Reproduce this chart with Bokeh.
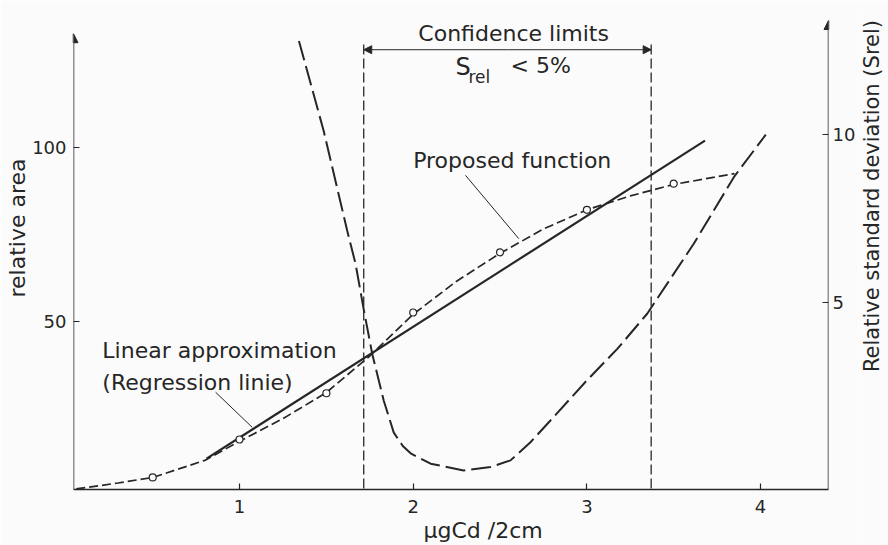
import math
from bokeh.plotting import figure
from bokeh.layouts import row
from bokeh.models import (Range1d, LinearAxis, FixedTicker, Label, Arrow,
                          NormalHead, Title)
from bokeh.embed import file_html
from bokeh.resources import INLINE

# ---------------- data ----------------
# measured points (relative area vs. µg Cd / 2 cm)
pts_x = [0.5, 1.0, 1.5, 2.0, 2.5, 3.0, 3.5]
pts_y = [5.1, 16.0, 29.3, 52.5, 69.8, 82.0, 89.5]

# proposed function (dashed curve)
prop_x = [0.06, 0.3, 0.5, 0.8, 1.0, 1.25, 1.5, 1.75, 2.0, 2.25, 2.5, 2.75, 3.0, 3.25, 3.5, 3.85]
prop_y = [1.8, 3.5, 5.1, 10.0, 15.5, 22.0, 29.5, 40.0, 52.0, 61.5, 69.5, 76.5, 82.0, 86.0, 89.3, 92.4]

# linear approximation (regression line) end points
reg_x = [0.81, 3.68]
reg_y = [10.5, 101.9]

# relative standard deviation curve (right axis)
srel_x = [1.342, 1.485, 1.62, 1.668, 1.716, 1.764, 1.83, 1.888, 1.94, 1.985, 2.1, 2.29,
          2.445, 2.56, 2.675, 2.79, 3.0, 3.175, 3.347, 3.615, 3.846, 4.03]
srel_y = [12.8, 10.1, 7.13, 6.14, 4.75, 3.45, 2.06, 1.1, 0.7, 0.48, 0.17, -0.03,
          0.07, 0.27, 0.81, 1.46, 2.66, 3.6, 4.65, 6.74, 8.73, 10.0]

# confidence limits (S_rel < 5 %)
conf_x = [1.715, 3.37]
conf_top = 129.5
conf_arrow_y = 128.0

# leader lines of the annotations
lead_lin = ([0.862, 1.073], [29.6, 19.5])
lead_prop = ([2.301, 2.608], [91.9, 73.7])

x_ticks = [1, 2, 3, 4]
left_ticks = [50, 100]
right_ticks = [5, 10]

x_lo, x_hi = 0.044, 4.391
y_lo, y_hi = 1.64, 136.4
r_lo, r_hi = -0.6, 13.41
left_arrow_top = 132.6

INK = "#262626"
BG = "#fbfbfb"
FONT = "DejaVu Sans"

p = figure(width=858, height=545, x_range=Range1d(x_lo, x_hi), y_range=Range1d(y_lo, y_hi),
           output_backend="svg", toolbar_location=None,
           min_border_left=73, min_border_right=30, min_border_top=20, min_border_bottom=56,
           background_fill_color=BG, border_fill_color=BG)
p.grid.visible = False
p.outline_line_color = None
p.extra_y_ranges = {"srel": Range1d(r_lo, r_hi)}

right = LinearAxis(y_range_name="srel")
p.add_layout(right, "right")

p.xaxis.ticker = FixedTicker(ticks=x_ticks)
p.yaxis[0].ticker = FixedTicker(ticks=left_ticks)
right.ticker = FixedTicker(ticks=right_ticks)

for ax in [p.xaxis[0], p.yaxis[0], right]:
    ax.major_tick_in = 6
    ax.major_tick_out = 0
    ax.minor_tick_line_color = None
    ax.major_tick_line_color = INK
    ax.major_tick_line_width = 1.2
    ax.major_label_text_font = FONT
    ax.major_label_text_font_size = "18px"
    ax.major_label_text_color = INK
    ax.axis_line_color = INK
    ax.axis_line_width = 1.5
p.xaxis[0].major_label_standoff = 10
p.yaxis[0].major_label_standoff = 7
right.major_label_standoff = 4
p.yaxis[0].axis_line_color = None
right.axis_line_color = None

# axis titles placed in the side panels
p.add_layout(Title(text="relative area", align="left", offset=192, standoff=0,
                   text_font=FONT, text_font_size="22px", text_font_style="normal",
                   text_color=INK), "left")
p.add_layout(Title(text="\u03bcgCd /2cm", align="left", offset=350, standoff=0,
                   text_font=FONT, text_font_size="22px", text_font_style="normal",
                   text_color=INK), "below")

# axis arrows
p.add_layout(Arrow(x_start=x_lo, y_start=y_lo, x_end=x_lo, y_end=left_arrow_top,
                   line_color=INK, line_width=1.5,
                   end=NormalHead(size=9, fill_color=INK, line_color=INK)))
p.add_layout(Arrow(x_start=x_hi, y_start=r_lo, x_end=x_hi, y_end=r_hi, y_range_name="srel",
                   line_color=INK, line_width=1.5,
                   end=NormalHead(size=9, fill_color=INK, line_color=INK)))

# confidence limits vertical lines
p.segment(x0=conf_x, y0=[conf_top, conf_top], x1=conf_x, y1=[y_lo, y_lo],
          line_color=INK, line_width=1.3, line_dash="10 4")
for cx in conf_x:
    p.add_layout(Arrow(x_start=sum(conf_x) / 2, y_start=conf_arrow_y, x_end=cx, y_end=conf_arrow_y,
                       line_color=INK, line_width=1,
                       end=NormalHead(size=8, fill_color=INK, line_color=INK)))

# curves
p.line(prop_x, prop_y, line_color=INK, line_width=1.7, line_dash="9 4")
p.line(reg_x, reg_y, line_color=INK, line_width=2.2)
p.line(srel_x, srel_y, y_range_name="srel", line_color=INK, line_width=2, line_dash="20 6")
p.scatter(pts_x, pts_y, marker="circle", size=7, fill_color=BG, line_color=INK, line_width=1.2)

# leader lines
p.line(lead_lin[0], lead_lin[1], line_color=INK, line_width=1)
p.line(lead_prop[0], lead_prop[1], line_color=INK, line_width=1)

def lab(fig, x, y, text, size, align="left", angle=0.0):
    fig.add_layout(Label(x=x, y=y, text=text, text_font=FONT, text_font_size=size,
                         text_color=INK, text_align=align, text_baseline="middle", angle=angle))

lab(p, 2.578, 132.7, "Confidence limits", "22px", "center")
lab(p, 2.243, 122.9, "S", "24px")
lab(p, 2.318, 120.2, "rel", "17px")
lab(p, 2.56, 123.5, "< 5%", "22px")
lab(p, 2.57, 96.1, "Proposed function", "22px", "center")
lab(p, 0.21, 41.6, "Linear approximation", "22px")
lab(p, 0.21, 32.5, "(Regression linie)", "22px")

# narrow strip on the right carrying the right-hand axis title (reads bottom to top)
side = figure(width=30, height=545, x_range=Range1d(0, 30), y_range=Range1d(0, 545),
              output_backend="svg", toolbar_location=None,
              x_axis_location=None, y_axis_location=None,
              min_border=0, min_border_left=0, min_border_right=0,
              min_border_top=0, min_border_bottom=0,
              background_fill_color=BG, border_fill_color=BG)
side.grid.visible = False
side.outline_line_color = None
lab(side, 13, 341, "Relative standard deviation (Srel)", "21px", "center", math.pi / 2)

layout = row(p, side, spacing=0)
open("out.html", "w").write(file_html(layout, INLINE))
